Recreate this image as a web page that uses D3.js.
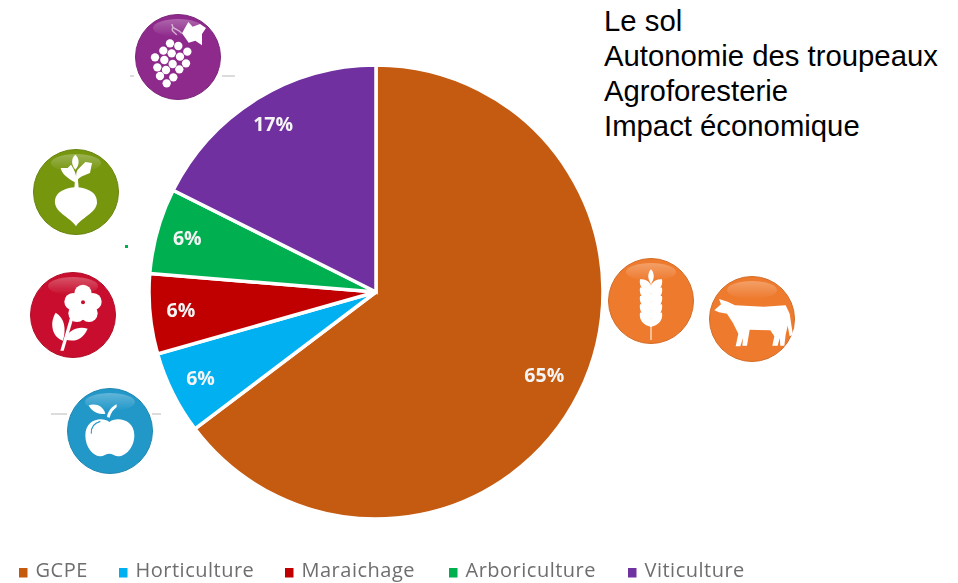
<!DOCTYPE html>
<html>
<head>
<meta charset="utf-8">
<script src="https://cdn.jsdelivr.net/npm/d3@7"></script>
<style>
  html, body { margin: 0; padding: 0; background: #fff; }
  svg { display: block; }
</style>
</head>
<body>
<script>
// chart data
const categories = ['GCPE', 'Horticulture', 'Maraichage', 'Arboriculture', 'Viticulture'];
const shares = [64.7, 5.9, 5.7, 6.1, 17.6]; // slice sizes as measured
const shareLabels = ['65%', '6%', '6%', '6%', '17%'];
const colors = ['#c55a11', '#00b0f0', '#c00000', '#00b050', '#7030a0'];
const topics = ['Le sol', 'Autonomie des troupeaux', 'Agroforesterie', 'Impact économique'];

const WIDTH = 958, HEIGHT = 583;
const CENTER = {x: 376, y: 292}, RADIUS = 227;

const svg = d3.select('body').append('svg')
    .attr('width', WIDTH)
    .attr('height', HEIGHT);

const defs = svg.append('defs');
defs.append('filter').attr('id', 'soft')
    .append('feGaussianBlur').attr('stdDeviation', 0.45);
defs.append('filter').attr('id', 'softer')
    .append('feGaussianBlur').attr('stdDeviation', 0.7);
const gloss = defs.append('linearGradient').attr('id', 'gloss')
    .attr('x1', 0).attr('y1', 0).attr('x2', 0).attr('y2', 1);
gloss.append('stop').attr('offset', 0).attr('stop-color', '#fff').attr('stop-opacity', 0.28);
gloss.append('stop').attr('offset', 1).attr('stop-color', '#fff').attr('stop-opacity', 0);

// pie
const pie = d3.pie().value(d => d).sort(null);
const arc = d3.arc().innerRadius(0).outerRadius(RADIUS);
const labelArc = d3.arc()
    .innerRadius(d => d.data > 50 ? 188 : 196)
    .outerRadius(d => d.data > 50 ? 188 : 196);

const gPie = svg.append('g').attr('transform', `translate(${CENTER.x},${CENTER.y})`);

gPie.selectAll('path')
    .data(pie(shares))
    .join('path')
    .attr('d', arc)
    .attr('fill', (d, i) => colors[i])
    .attr('stroke', '#fff')
    .attr('stroke-width', 3.5);

gPie.selectAll('text')
    .data(pie(shares))
    .join('text')
    .attr('transform', d => `translate(${labelArc.centroid(d)})`)
    .attr('text-anchor', 'middle')
    .attr('dy', '0.3em')
    .attr('font-family', '"Open Sans"')
    .attr('font-weight', 700)
    .attr('font-size', 19.5)
    .attr('fill', '#f4f4f4')
    .attr('filter', 'url(#soft)')
    .text((d, i) => shareLabels[i]);

// text block top right
svg.append('g').selectAll('text')
    .data(topics)
    .join('text')
    .attr('x', 604)
    .attr('y', (d, i) => 31 + i * 35)
    .attr('font-family', '"Liberation Sans"')
    .attr('font-size', 29.3)
    .attr('fill', '#000')
    .text(d => d);

// legend, items sit where the reference has them
const legendSquareX = [19, 119, 285, 449, 628];
const gLegend = svg.append('g').attr('filter', 'url(#soft)');
gLegend.selectAll('rect')
    .data(categories)
    .join('rect')
    .attr('x', (d, i) => legendSquareX[i])
    .attr('y', 568)
    .attr('width', 8.5)
    .attr('height', 9.5)
    .attr('fill', (d, i) => colors[i]);
gLegend.selectAll('text')
    .data(categories)
    .join('text')
    .attr('x', (d, i) => legendSquareX[i] + 16.5)
    .attr('y', 577)
    .attr('font-family', '"Open Sans"')
    .attr('font-size', 20)
    .attr('letter-spacing', 0.5)
    .attr('fill', '#6e6e6e')
    .text(d => d);

// little grey leftovers around the icons
const dashes = [[130, 134, 76], [222, 235, 76], [51, 67, 414], [152, 161, 414]];
svg.append('g').selectAll('line')
    .data(dashes)
    .join('line')
    .attr('x1', d => d[0])
    .attr('x2', d => d[1])
    .attr('y1', d => d[2])
    .attr('y2', d => d[2])
    .attr('stroke', '#dcdcdc')
    .attr('stroke-width', 2);
svg.append('rect').attr('x', 125).attr('y', 245).attr('width', 3).attr('height', 3).attr('fill', '#00b050');

// round icons, shapes drawn in the 3x crop coordinates around (zx, zy)
function badge(cx, cy, zx, zy, fill) {
    const g = svg.append('g')
        .attr('transform', `translate(${cx},${cy})`)
        .attr('filter', 'url(#softer)');
    g.append('circle').attr('r', 42.5).attr('fill', fill)
        .attr('stroke', d3.color(fill).darker(0.35)).attr('stroke-width', 1);
    g.append('ellipse').attr('cy', -29).attr('rx', 25).attr('ry', 9).attr('fill', 'url(#gloss)');
    return g.append('g')
        .attr('transform', `scale(${1 / 3}) translate(${-zx},${-zy})`)
        .attr('fill', '#fff');
}

// grapes
const grape = badge(178, 57, 534, 171, '#8e2a8b');
const grapeDots = [[510,130],[535,138],[562,155],[490,152],[515,160],[540,170],[558,190],[465,172],
    [493,180],[518,192],[538,208],[472,202],[498,210],[520,232],[480,228],[500,250]];
grape.selectAll('circle').data(grapeDots).join('circle')
    .attr('cx', d => d[0]).attr('cy', d => d[1]).attr('r', 12.5);
grape.append('path').attr('d', 'M565,66 L578,80 L600,72 L618,84 L606,102 L606,136 L586,122 L566,128 L546,100 Z');
grape.append('path').attr('d', 'M545,100 C535,85 515,90 516,72 M530,105 C525,95 510,95 520,80')
    .attr('fill', 'none').attr('stroke', '#fff').attr('stroke-width', 4).attr('opacity', 0.6);

// beet
const beet = badge(76, 192, 230, 577, '#76960f');
beet.append('path').attr('d', 'M230,562 C260,565 295,575 293,610 C290,640 245,655 230,680 C215,655 170,640 167,610 C165,575 200,565 230,562 Z');
beet.append('path').attr('d', 'M225,565 L238,565 L235,530 L228,530 Z');
beet.append('path').attr('d', 'M230,550 C215,540 190,530 184,505 L205,505 L215,495 C225,510 235,530 230,550 Z');
beet.append('path').attr('d', 'M232,545 C240,530 250,530 272,520 L278,490 L258,487 L240,505 C228,515 230,530 232,545 Z');
beet.append('path').attr('d', 'M228,510 C215,495 215,475 228,465 C240,475 242,495 228,510 Z');

// flower
const flower = badge(73, 315, 220, 225, '#c8102e');
const petals = [[250,160],[280,185],[268,220],[232,220],[220,185]];
flower.selectAll('circle.petal').data(petals).join('circle')
    .attr('class', 'petal')
    .attr('cx', d => d[0]).attr('cy', d => d[1]).attr('r', 26);
flower.append('circle').attr('cx', 250).attr('cy', 190).attr('r', 24);
flower.append('circle').attr('cx', 250).attr('cy', 187).attr('r', 6).attr('fill', '#c8102e');
flower.append('path').attr('d', 'M182,332 L192,332 L222,232 L212,230 Z');
flower.append('path').attr('d', 'M168,218 C195,235 200,265 190,302 C158,292 148,250 168,218 Z');
flower.append('path').attr('d', 'M195,298 C210,265 240,258 264,266 C250,298 225,308 195,298 Z');

// apple
const apple = badge(110, 431, 332, 572, '#2398c9');
apple.append('path').attr('d', 'M330,545 C350,528 405,535 405,585 C405,625 375,650 355,648 C345,646 338,640 330,640 C322,640 315,646 305,648 C285,650 258,625 258,585 C258,535 310,528 330,545 Z');
apple.append('path').attr('d', 'M276,580 C274,560 285,548 303,543').attr('fill', 'none').attr('stroke', '#2398c9').attr('stroke-width', 3.5);
apple.append('path').attr('d', 'M268,495 C290,488 312,498 318,520 C295,524 278,514 268,495 Z');
apple.append('path').attr('d', 'M323,530 C325,515 335,500 352,492 L352,500 C342,508 334,518 331,532 Z');

// wheat
const wheat = badge(651, 301, 183, 183, '#ee7a2d');
wheat.append('rect').attr('x', 181).attr('y', 120).attr('width', 4).attr('height', 180).attr('opacity', 0.75);
wheat.append('path').attr('d', 'M183,88 C194,100 194,118 183,130 C172,118 172,100 183,88 Z');
const kernelY = [122, 147, 172, 197, 222];
kernelY.forEach(y => {
    wheat.append('path').attr('d', `M186,${y + 38} C160,${y + 36} 146,${y + 16} 150,${y - 4} C174,${y - 6} 186,${y + 8} 186,${y + 38} Z`);
    wheat.append('path').attr('d', `M180,${y + 38} C206,${y + 36} 220,${y + 16} 216,${y - 4} C192,${y - 6} 180,${y + 8} 180,${y + 38} Z`);
});

// cow
const cow = badge(752, 319, 485, 238, '#ee7a2d');
cow.append('path').attr('d', 'M372,212 L392,194 L386,178 L412,186 L434,197 L520,201 L586,197 L598,222 L604,262 L608,285 L598,290 L592,258 L586,285 L582,318 L570,318 L568,295 L562,318 L546,318 L552,290 L540,272 L478,270 L470,318 L456,318 L458,295 L450,320 L436,320 L444,282 L428,250 L410,222 L386,218 Z');
</script>
</body>
</html>
